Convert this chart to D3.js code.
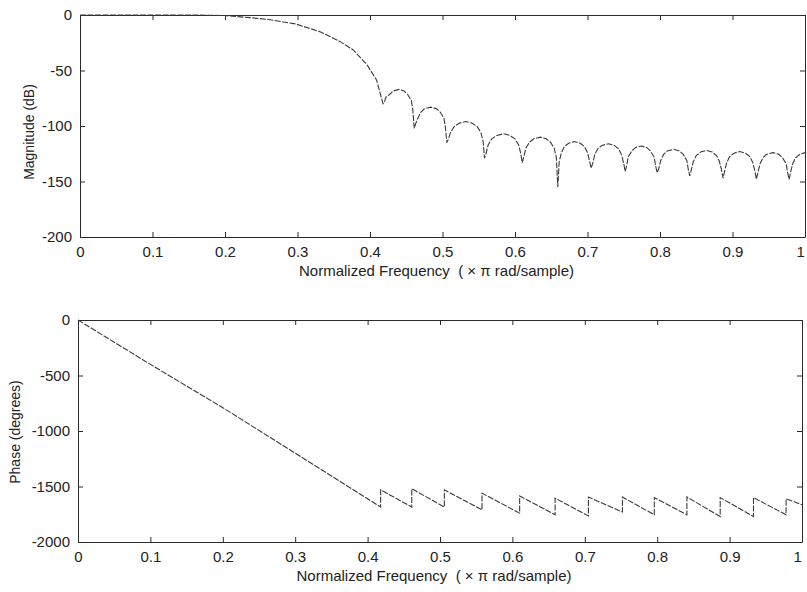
<!DOCTYPE html>
<html>
<head>
<meta charset="utf-8">
<script src="https://cdn.jsdelivr.net/npm/d3@7"></script>
<style>
  html, body { margin: 0; padding: 0; background: #ffffff; }
  svg { display: block; }
  text { font-family: "Liberation Sans", Arial, sans-serif; fill: #222; }
</style>
</head>
<body>
<svg id="chart" width="807" height="592"></svg>
<script>
// ---------- data ----------
const xTicks = [0, 0.1, 0.2, 0.3, 0.4, 0.5, 0.6, 0.7, 0.8, 0.9, 1];
const xTickLabels = ["0", "0.1", "0.2", "0.3", "0.4", "0.5", "0.6", "0.7", "0.8", "0.9", "1"];
const magTicks = [0, -50, -100, -150, -200];
const magTickLabels = ["0", "-50", "-100", "-150", "-200"];
const phaseTicks = [0, -500, -1000, -1500, -2000];
const phaseTickLabels = ["0", "-500", "-1000", "-1500", "-2000"];

const magFreq = [
  0, 0.05, 0.1, 0.15, 0.2, 0.234, 0.26, 0.297, 0.331, 0.359, 0.377, 0.396, 0.409, 0.418,
  0.420, 0.422, 0.427, 0.432, 0.440, 0.447, 0.452, 0.457, 0.459, 0.461,
  0.463, 0.466, 0.470, 0.475, 0.484, 0.492, 0.497, 0.502, 0.504, 0.506,
  0.508, 0.511, 0.516, 0.523, 0.532, 0.541, 0.548, 0.553, 0.556, 0.558,
  0.560, 0.563, 0.568, 0.575, 0.584, 0.593, 0.600, 0.605, 0.608, 0.610,
  0.612, 0.615, 0.620, 0.626, 0.635, 0.643, 0.649, 0.654, 0.657, 0.659,
  0.661, 0.664, 0.668, 0.674, 0.682, 0.690, 0.696, 0.700, 0.703, 0.705,
  0.707, 0.710, 0.714, 0.720, 0.729, 0.737, 0.743, 0.747, 0.750, 0.752,
  0.754, 0.756, 0.761, 0.766, 0.774, 0.782, 0.787, 0.792, 0.794, 0.796,
  0.798, 0.801, 0.805, 0.810, 0.819, 0.827, 0.832, 0.837, 0.839, 0.841,
  0.843, 0.846, 0.850, 0.856, 0.864, 0.872, 0.878, 0.882, 0.885, 0.887,
  0.889, 0.892, 0.896, 0.902, 0.910, 0.918, 0.924, 0.928, 0.931, 0.933,
  0.935, 0.938, 0.942, 0.947, 0.956, 0.964, 0.969, 0.974, 0.976, 0.978,
  0.980, 0.983, 0.987, 0.993, 1.0
];
const magDb = [
  0, 0, 0, 0, -0.5, -2.4, -4, -8, -15, -24, -31.5, -45, -58.5, -80,
  -78, -74, -71.6, -68.5, -67, -68.5, -71.6, -77, -85, -102,
  -98, -93, -87.6, -84.5, -83, -84.5, -87.6, -93, -101, -115,
  -112, -106, -100.6, -97.5, -96, -97.5, -100.6, -106, -114, -129,
  -125, -117, -111.6, -108.5, -107, -108.5, -111.6, -117, -125, -133,
  -128, -120, -114.6, -111.5, -110, -111.5, -114.6, -120, -128, -155,
  -132, -124, -118.6, -115.5, -114, -115.5, -118.6, -124, -132, -138,
  -134, -126, -120.6, -117.5, -116, -117.5, -120.6, -126, -134, -141,
  -136, -128, -122.6, -119.5, -118, -119.5, -122.6, -128, -136, -142,
  -139, -131, -125.6, -122.5, -121, -122.5, -125.6, -131, -139, -145,
  -140, -132, -126.6, -123.5, -122, -123.5, -126.6, -132, -140, -147,
  -141, -133, -127.6, -124.5, -123, -124.5, -127.6, -133, -141, -148,
  -142, -134, -128.6, -125.5, -124, -125.5, -128.6, -134, -142, -148,
  -142, -134, -128.6, -125.5, -124
];

const phaseFreq = [
  0, 0.1, 0.2, 0.3, 0.418,
  0.418, 0.461, 0.461, 0.506, 0.506, 0.558, 0.558, 0.610, 0.610, 0.659,
  0.659, 0.705, 0.705, 0.752, 0.752, 0.796, 0.796, 0.841, 0.841, 0.887,
  0.887, 0.933, 0.933, 0.978, 0.978, 1.0
];
const phaseDeg = [
  0, -400, -790, -1200, -1685,
  -1530, -1685, -1520, -1685, -1530, -1710, -1560, -1740, -1585, -1755,
  -1605, -1765, -1595, -1730, -1595, -1755, -1600, -1755, -1595, -1770,
  -1600, -1770, -1600, -1755, -1610, -1665
];

// ---------- drawing ----------
const svg = d3.select("#chart");
const axisColor = "#2a2a2a";
const lineColor = "#3a3a3a";

function panel(opts) {
  const x = d3.scaleLinear().domain([0, 1]).range([opts.left, opts.right]);
  const y = d3.scaleLinear().domain(opts.yDomain).range([opts.bottom, opts.top]);
  const g = svg.append("g");
  const tickLen = 5;

  const bx = g.append("g").attr("transform", `translate(0,${opts.bottom})`)
    .call(d3.axisBottom(x).tickValues(xTicks).tickSizeInner(-tickLen).tickSizeOuter(0)
      .tickPadding(9).tickFormat((d, i) => xTickLabels[i]));
  const tx = g.append("g").attr("transform", `translate(0,${opts.top})`)
    .call(d3.axisTop(x).tickValues(xTicks).tickSizeInner(-tickLen).tickSizeOuter(0).tickFormat(""));
  const ly = g.append("g").attr("transform", `translate(${opts.left},0)`)
    .call(d3.axisLeft(y).tickValues(opts.yTicks).tickSizeInner(-tickLen).tickSizeOuter(0)
      .tickPadding(8).tickFormat((d, i) => opts.yTickLabels[i]));
  const ry = g.append("g").attr("transform", `translate(${opts.right},0)`)
    .call(d3.axisRight(y).tickValues(opts.yTicks).tickSizeInner(-tickLen).tickSizeOuter(0).tickFormat(""));

  [bx, tx, ly, ry].forEach(a => {
    a.selectAll("path.domain").attr("stroke", axisColor).attr("stroke-width", 1);
    a.selectAll(".tick line").attr("stroke", axisColor).attr("stroke-width", 1);
    a.selectAll(".tick text").attr("font-size", 15)
      .attr("font-family", "'Liberation Sans', Arial, sans-serif").attr("fill", "#222");
  });
  // keep the last x label ("1") inside the picture, as in the reference
  bx.selectAll(".tick text").filter((d, i) => i === xTicks.length - 1)
    .attr("text-anchor", "end").attr("dx", "-0.05em");

  const data = opts.xs.map((f, i) => [f, opts.ys[i]]);
  g.append("path")
    .datum(data)
    .attr("fill", "none")
    .attr("stroke", lineColor)
    .attr("stroke-width", 1.1)
    .attr("stroke-dasharray", "6,1.5")
    .attr("d", d3.line().x(d => x(d[0])).y(d => y(d[1])));

  g.append("text")
    .attr("x", (opts.left + opts.right) / 2 - 6)
    .attr("y", opts.bottom + 39)
    .attr("text-anchor", "middle")
    .attr("font-size", 15)
    .style("white-space", "pre")
    .attr("xml:space", "preserve")
    .text("Normalized Frequency  ( \u00d7 \u03c0 rad/sample)");

  g.append("text")
    .attr("transform", `translate(${opts.ylabelX},${opts.ylabelY}) rotate(-90)`)
    .attr("text-anchor", "middle")
    .attr("font-size", 14)
    .text(opts.ylabel);
}

panel({
  left: 80, right: 805, top: 15, bottom: 237,
  yDomain: [-200, 0], yTicks: magTicks, yTickLabels: magTickLabels,
  xs: magFreq, ys: magDb,
  ylabel: "Magnitude (dB)", ylabelX: 34, ylabelY: 132
});

panel({
  left: 78, right: 802, top: 320, bottom: 542,
  yDomain: [-2000, 0], yTicks: phaseTicks, yTickLabels: phaseTickLabels,
  xs: phaseFreq, ys: phaseDeg,
  ylabel: "Phase (degrees)", ylabelX: 20, ylabelY: 432
});
</script>
</body>
</html>
